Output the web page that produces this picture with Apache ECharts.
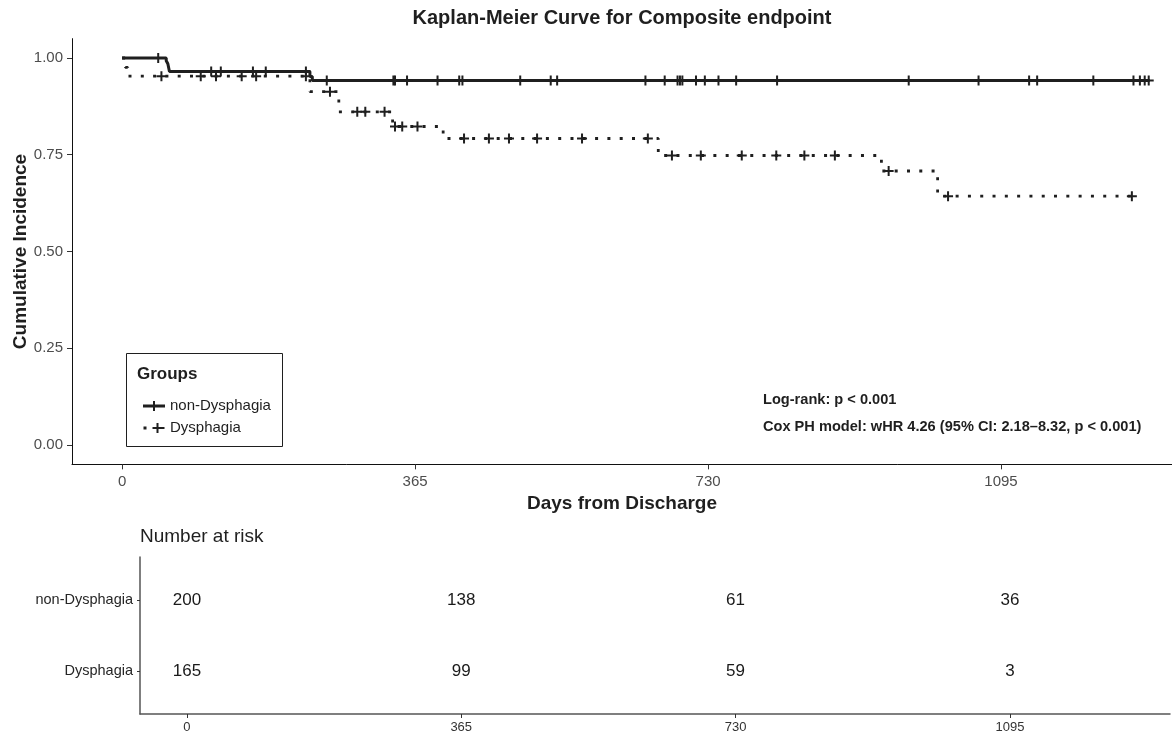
<!DOCTYPE html>
<html>
<head>
<meta charset="utf-8">
<script src="https://cdn.jsdelivr.net/npm/echarts@6/dist/echarts.min.js"></script>
<style>html,body{margin:0;padding:0;background:#fff}#c{width:1172px;height:738px}</style>
</head>
<body>
<div id="c"></div>
<script>
// ---- data ----
const groups = ['non-Dysphagia', 'Dysphagia'];
// Kaplan-Meier step points (day, estimate after the event)
const nonDysTime = [0, 55, 57, 59, 234, 237, 1280];
const nonDysSurv = [1.00, 0.993, 0.985, 0.965, 0.952, 0.942, 0.942];
const dysTime = [0, 4, 7, 234, 270, 337, 400, 668, 946, 1016, 1258];
const dysSurv = [1.00, 0.976, 0.953, 0.913, 0.861, 0.823, 0.792, 0.748, 0.708, 0.643, 0.643];
// censoring times
const nonDysCensor = [45, 111, 123, 163, 179, 229, 255, 338, 340, 355, 393, 420, 424, 496, 534, 542, 652, 676, 692, 695, 698, 715, 726, 743, 765, 816, 980, 1067, 1130, 1140, 1210, 1260, 1268, 1274, 1279];
const dysCensor = [49, 98, 117, 149, 167, 229, 259, 293, 303, 327, 340, 349, 368, 426, 457, 482, 517, 573, 655, 685, 721, 772, 815, 850, 888, 955, 1029, 1258];
// number at risk table
const riskTimes = [0, 365, 730, 1095];
const riskNonDys = [200, 138, 61, 36];
const riskDys = [165, 99, 59, 3];
const xTicks = [0, 365, 730, 1095];
const yTicks = [0, 0.25, 0.5, 0.75, 1];

// ---- helpers ----
function survAt(ts, ss, t) {
  let v = ss[0];
  for (let i = 0; i < ts.length; i++) { if (ts[i] <= t) v = ss[i]; }
  return v;
}
const FONT = "'Liberation Sans', Arial, sans-serif";
const INK = '#1f1f1f';
const PLUS = 'path://M4,0H6V4H10V6H6V10H4V6H0V4H4Z';
const ICON_SOLID = 'path://M0,3.5H10V0H12V3.5H22V6.5H12V10H10V6.5H0Z';
const ICON_DOT = 'path://M0,3.5H3V6.5H0Z M9,4H13V0H15V4H21V6H15V10H13V6H9Z';

const XMIN = -62.4, XMAX = 1308;

const chart = echarts.init(document.getElementById('c'), null, {renderer: 'canvas'});
chart.setOption({
  animation: false,
  backgroundColor: '#ffffff',
  textStyle: {fontFamily: FONT},
  grid: [
    {left: 72, top: 38.65, width: 1100, height: 425.7, outerBoundsMode: 'none', containLabel: false},
    {left: 140, top: 557, width: 1030, height: 157, outerBoundsMode: 'none', containLabel: false}
  ],
  xAxis: [
    {
      type: 'value', gridIndex: 0, min: XMIN, max: XMAX,
      splitLine: {show: false},
      axisLine: {show: true, onZero: false, lineStyle: {color: '#111', width: 1}},
      axisTick: {show: true, customValues: xTicks, length: 5, lineStyle: {color: '#333'}},
      axisLabel: {customValues: xTicks, fontSize: 15, color: '#4d4d4d', margin: 10, fontFamily: FONT,
        formatter: v => String(v)},
      name: 'Days from Discharge', nameLocation: 'middle', nameGap: 27,
      nameTextStyle: {fontSize: 19, fontWeight: 'bold', color: INK, fontFamily: FONT}
    },
    {
      type: 'value', gridIndex: 1, min: XMIN, max: XMAX,
      splitLine: {show: false},
      axisLine: {show: true, onZero: false, lineStyle: {color: '#555', width: 1.5}},
      axisTick: {show: true, customValues: xTicks, length: 4, lineStyle: {color: '#333'}},
      axisLabel: {customValues: xTicks, fontSize: 13, color: '#333', margin: 7, fontFamily: FONT,
        formatter: v => String(v)}
    }
  ],
  yAxis: [
    {
      type: 'value', gridIndex: 0, min: -0.05, max: 1.05,
      splitLine: {show: false},
      axisLine: {show: true, onZero: false, lineStyle: {color: '#111', width: 1}},
      axisTick: {show: true, customValues: yTicks, length: 5, lineStyle: {color: '#333'}},
      axisLabel: {customValues: yTicks, fontSize: 15, color: '#4d4d4d', margin: 9, fontFamily: FONT,
        formatter: v => Number(v).toFixed(2)},
      name: 'Cumulative Incidence', nameLocation: 'middle', nameGap: 42, nameMoveOverlap: false,
      nameTextStyle: {fontSize: 19, fontWeight: 'bold', color: INK, fontFamily: FONT}
    },
    {
      type: 'value', gridIndex: 1, min: 0.4, max: 2.6,
      splitLine: {show: false},
      axisLine: {show: true, onZero: false, lineStyle: {color: '#555', width: 1.5}},
      axisTick: {show: true, customValues: [1, 2], length: 3, lineStyle: {color: '#333'}},
      axisLabel: {customValues: [1, 2], fontSize: 14.5, color: '#262626', margin: 7, fontFamily: FONT,
        formatter: v => (v === 2 ? groups[0] : groups[1])}
    }
  ],
  legend: {
    orient: 'vertical', left: 138, top: 393,
    itemWidth: 22, itemHeight: 10, itemGap: 6,
    textStyle: {fontSize: 15, color: INK, lineHeight: 16, fontFamily: FONT},
    data: [
      {name: groups[0], icon: ICON_SOLID, itemStyle: {color: INK, borderWidth: 0, opacity: 1}},
      {name: groups[1], icon: ICON_DOT, itemStyle: {color: INK, borderWidth: 0, opacity: 1}}
    ]
  },
  graphic: [
    {type: 'text', x: 622, y: 18, style: {text: 'Kaplan-Meier Curve for Composite endpoint', font: 'bold 20px ' + FONT, fill: INK, textAlign: 'center', textVerticalAlign: 'middle'}},
    {type: 'rect', shape: {x: 126.5, y: 353.5, width: 156, height: 93}, style: {fill: 'rgba(255,255,255,0)', stroke: INK, lineWidth: 1}, z: 1},
    {type: 'text', x: 137, y: 374, style: {text: 'Groups', font: 'bold 17px ' + FONT, fill: INK, textVerticalAlign: 'middle'}},
    {type: 'text', x: 763, y: 400, style: {text: 'Log-rank: p < 0.001', font: 'bold 14.6px ' + FONT, fill: INK, textVerticalAlign: 'middle'}},
    {type: 'text', x: 763, y: 427, style: {text: 'Cox PH model: wHR 4.26 (95% CI: 2.18\u20138.32, p < 0.001)', font: 'bold 14.6px ' + FONT, fill: INK, textVerticalAlign: 'middle'}},
    {type: 'text', x: 140, y: 537, style: {text: 'Number at risk', font: '19px ' + FONT, fill: INK, textVerticalAlign: 'middle'}}
  ],
  series: [
    {
      name: groups[0], type: 'line', xAxisIndex: 0, yAxisIndex: 0, step: 'end', showSymbol: false,
      data: nonDysTime.map((t, i) => [t, nonDysSurv[i]]),
      itemStyle: {color: INK},
      lineStyle: {color: INK, width: 3, cap: 'butt'}, z: 3
    },
    {
      name: groups[1], type: 'line', xAxisIndex: 0, yAxisIndex: 0, step: 'end', showSymbol: false,
      data: dysTime.map((t, i) => [t, dysSurv[i]]),
      itemStyle: {color: INK},
      lineStyle: {color: INK, width: 2.8, type: [3, 9.3], cap: 'butt'}, z: 3
    },
    {
      name: 'non-Dysphagia censored', type: 'scatter', xAxisIndex: 0, yAxisIndex: 0,
      symbol: PLUS, symbolSize: 10,
      itemStyle: {color: INK, opacity: 1},
      data: nonDysCensor.map(t => [t, survAt(nonDysTime, nonDysSurv, t)]), z: 4
    },
    {
      name: 'Dysphagia censored', type: 'scatter', xAxisIndex: 0, yAxisIndex: 0,
      symbol: PLUS, symbolSize: 10,
      itemStyle: {color: INK, opacity: 1},
      data: dysCensor.map(t => [t, survAt(dysTime, dysSurv, t)]), z: 4
    },
    {
      name: 'risk', type: 'scatter', xAxisIndex: 1, yAxisIndex: 1, symbolSize: 0,
      itemStyle: {opacity: 1, color: '#1a1a1a'},
      data: riskTimes.map((t, i) => [t, 2, riskNonDys[i]]).concat(riskTimes.map((t, i) => [t, 1, riskDys[i]])),
      label: {show: true, position: 'inside', formatter: p => String(p.value[2]), fontSize: 17, color: '#1a1a1a', opacity: 1, fontFamily: FONT}
    }
  ]
});
</script>
</body>
</html>
